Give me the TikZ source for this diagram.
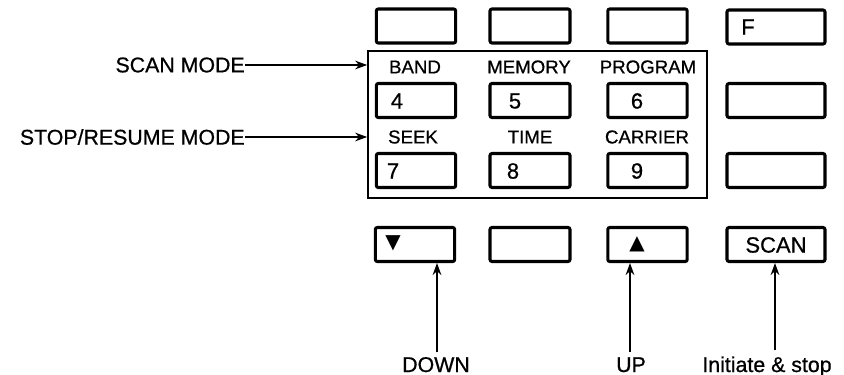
\documentclass[tikz,border=0pt]{standalone}
\usepackage{fontspec}
\setmainfont{Liberation Sans}[FakeBold=0.7]
\newfontfamily\symfont{DejaVu Sans}
\usetikzlibrary{arrows.meta}
\begin{document}
\begin{tikzpicture}[x=0.75pt,y=-0.75pt,
  key/.style={draw, line width=2.3pt, rounded corners=1.5pt, minimum height=25.5pt, inner sep=0pt},
  keyA/.style={key, minimum width=59.5pt},
  keyB/.style={key, minimum width=60pt},
  keyC/.style={key, minimum width=59.5pt},
  keyD/.style={key, minimum width=73.5pt},
  keytext/.style={inner sep=0pt, font=\fontsize{16.5}{16.5}\selectfont},
  symtext/.style={inner sep=0pt, font=\symfont\fontsize{15}{15}\selectfont},
  small/.style={inner sep=0pt, font=\fontsize{14}{14}\selectfont},
  big/.style={inner sep=0pt, font=\fontsize{16}{16}\selectfont},
  frame/.style={draw, line width=1.5pt, inner sep=0pt, minimum width=254pt, minimum height=110pt},
  pointer/.style={line width=1.2pt, -{Stealth[length=9pt,width=6.5pt]}}
]
\useasboundingbox (0,0) rectangle (844,375);

% frame around mode keys
\node[frame] (frame) at (537.5,124.5) {};

% row 1
\node[keyA] (b11) at (416,26) {};
\node[keyB] (b12) at (530,26) {};
\node[keyC] (b13) at (647.5,26) {};
\node[keyD] (b14) at (776,27) {};
\node[keytext] (tF) at (748,27) {F};

% row 2
\node[keyA] (b21) at (416,100.5) {};
\node[keyB] (b22) at (530,100.5) {};
\node[keyC] (b23) at (647.5,100.5) {};
\node[keyD] (b24) at (776,100.5) {};
\node[keytext] (t4) at (397,101) {4};
\node[keytext] (t5) at (515,101) {5};
\node[keytext] (t6) at (637,101) {6};

% row 3
\node[keyA] (b31) at (416,170.5) {};
\node[keyB] (b32) at (530,170.5) {};
\node[keyC] (b33) at (647.5,170.5) {};
\node[keyD] (b34) at (776,170.5) {};
\node[keytext] (t7) at (393,171) {7};
\node[keytext] (t8) at (513,171) {8};
\node[keytext] (t9) at (637,171) {9};

% row 4
\node[keyA] (b41) at (415,244.5) {};
\node[keyB] (b42) at (530,244.5) {};
\node[keyC] (b43) at (647.5,244.5) {};
\node[keyD] (b44) at (776,244.5) {};
\node[symtext] (tdn) at (393,243) {▼};
\node[symtext] (tup) at (637,244) {▲};
\node[keytext] (tscan) at (776,245) {SCAN};

% labels above keys
\node[small] (lband) at (415,67) {BAND};
\node[small] (lmem) at (529,67) {MEMORY};
\node[small] (lprog) at (648,67) {PROGRAM};
\node[small] (lseek) at (413,137) {SEEK};
\node[small] (ltime) at (530,137) {TIME};
\node[small] (lcarr) at (647,137) {CARRIER};

% left mode labels
\node[big, anchor=east] (scanmode) at (245,65) {SCAN MODE};
\node[big, anchor=east] (stopmode) at (245,137) {STOP/RESUME MODE};
\draw[pointer] (scanmode.east) -- (scanmode.east -| frame.west);
\draw[pointer] (stopmode.east) -- (stopmode.east -| frame.west);

% bottom labels
\node[big, anchor=base] (down) at (436,372) {DOWN};
\node[big, anchor=base] (up) at (631,372) {UP};
\node[big, anchor=base] (init) at (767,372) {Initiate \& stop};
\coordinate (cdown) at (437,352);
\coordinate (cup) at (630,352);
\coordinate (cinit) at (775,350);
\draw[pointer] (cdown) -- (cdown |- b41.south);
\draw[pointer] (cup) -- (cup |- b43.south);
\draw[pointer] (cinit) -- (cinit |- b44.south);
\end{tikzpicture}
\end{document}
